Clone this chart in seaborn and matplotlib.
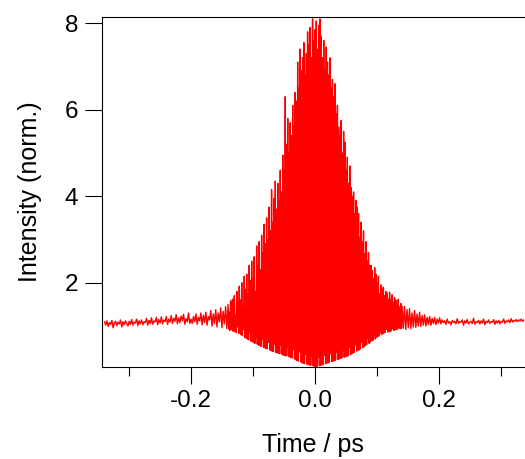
import numpy as np
import pandas as pd
import matplotlib
matplotlib.use("Agg")
import matplotlib.pyplot as plt
import seaborn as sns
from matplotlib.ticker import MultipleLocator

# ================== 数据 ==================
# 强度（归一化），从图上逐点读出；两翼每 ~0.002 ps 一点，中心每 0.001 ps 一点
wing_left = [
    1.10, 1.02, 1.12, 0.99, 1.08, 1.04, 1.13, 0.96, 1.07, 1.11,
    1.01, 1.09, 1.05, 1.14, 0.98, 1.10, 1.03, 1.12, 1.06, 1.00,
    1.11, 1.04, 1.15, 1.02, 1.09, 1.07, 1.16, 1.01, 1.12, 1.05,
    1.14, 1.03, 1.10, 1.08, 1.18, 1.02, 1.13, 1.06, 1.19, 1.04,
    1.12, 1.09, 1.20, 1.03, 1.15, 1.07, 1.21, 1.05, 1.14, 1.10,
    1.22, 1.04, 1.16, 1.09, 1.24, 1.06, 1.18, 1.11, 1.26, 1.05,
    1.19, 1.08, 1.23, 1.12, 1.27, 1.04, 1.17, 1.10, 1.30, 1.06,
    1.16, 1.06, 1.22, 1.10, 1.28, 1.04, 1.20, 1.12, 1.30, 1.03,
    1.25, 1.08, 1.32, 1.02, 1.22, 1.14, 1.36, 1.00, 1.28, 1.06,
    1.38, 0.98, 1.30, 1.10, 1.42, 0.96, 1.34, 1.05, 1.45, 0.94,
]
center = [
    1.50, 0.93, 1.32, 0.90, 1.58, 1.05, 0.91, 1.62, 0.88, 1.45,
    1.70, 0.87, 1.25, 0.85, 1.80, 0.98, 1.55, 0.83, 1.92, 0.84,
    1.60, 0.80, 2.00, 0.78, 1.45, 0.92, 2.15, 0.74, 1.85, 0.72,
    2.20, 0.70, 1.75, 0.68, 2.40, 0.85, 2.05, 0.65, 2.50, 0.64,
    2.10, 0.62, 2.60, 0.60, 1.80, 0.75, 2.85, 0.58, 2.40, 0.56,
    2.95, 0.55, 2.30, 0.53, 3.10, 0.70, 2.70, 0.51, 3.35, 0.50,
    2.90, 0.48, 3.50, 0.47, 3.00, 0.62, 3.75, 0.45, 3.20, 0.43,
    4.15, 0.42, 3.40, 0.41, 3.95, 0.58, 4.35, 0.39, 3.70, 0.38,
    4.30, 0.37, 3.90, 0.36, 4.60, 0.55, 4.10, 0.34, 4.95, 0.33,
    4.60, 0.32, 6.30, 0.31, 5.20, 0.50, 5.80, 0.30, 5.00, 0.29,
    5.70, 0.27, 5.40, 0.26, 6.10, 0.45, 5.60, 0.24, 6.40, 0.22,
    6.20, 0.20, 7.10, 0.19, 6.50, 0.40, 7.40, 0.17, 6.90, 0.15,
    7.20, 0.14, 7.55, 0.13, 6.80, 0.35, 7.30, 0.12, 7.80, 0.11,
    7.50, 0.10, 7.90, 0.09, 7.20, 0.30, 8.10, 0.08, 7.60, 0.07,
    7.85, 0.06, 8.05, 0.07, 7.40, 0.28, 7.95, 0.08, 8.10, 0.09,
    7.70, 0.10, 7.20, 0.11, 7.60, 0.32, 6.90, 0.13, 7.45, 0.14,
    7.10, 0.15, 6.80, 0.16, 7.20, 0.36, 6.50, 0.18, 6.70, 0.19,
    6.30, 0.20, 6.60, 0.21, 5.90, 0.40, 6.10, 0.23, 5.60, 0.24,
    5.40, 0.25, 5.75, 0.26, 5.00, 0.44, 5.50, 0.28, 5.25, 0.29,
    4.60, 0.30, 4.90, 0.31, 4.30, 0.50, 4.70, 0.34, 4.20, 0.36,
    4.00, 0.38, 4.10, 0.39, 3.60, 0.56, 3.90, 0.42, 3.75, 0.44,
    3.60, 0.45, 3.05, 0.47, 3.40, 0.62, 2.95, 0.50, 3.20, 0.53,
    2.67, 0.55, 2.95, 0.57, 2.50, 0.72, 2.70, 0.60, 2.40, 0.63,
    2.40, 0.66, 2.28, 0.67, 2.10, 0.80, 2.35, 0.70, 2.20, 0.73,
    2.00, 0.76, 2.15, 0.77, 1.74, 0.86, 1.95, 0.80, 1.85, 0.82,
    1.90, 0.84, 1.70, 0.85, 1.80, 0.92, 1.76, 0.86, 1.62, 0.87,
    1.78, 0.88, 1.60, 0.89, 1.72, 0.95, 1.55, 0.90, 1.66, 0.91,
    1.60, 0.92, 1.48, 0.93, 1.62, 0.98, 1.44, 0.94, 1.52, 0.95,
    1.46,
]
wing_right = [
    0.95, 1.45, 0.92, 1.38, 0.96, 1.40, 0.94, 1.30, 0.98, 1.36,
    0.97, 1.28, 1.00, 1.32, 0.99, 1.24, 1.02, 1.26, 1.00, 1.20,
    1.04, 1.22, 1.02, 1.18, 1.06, 1.20, 1.03, 1.16, 1.07, 1.19,
    1.05, 1.14, 1.08, 1.12, 1.04, 1.16, 1.07, 1.10, 1.03, 1.13,
    1.08, 1.11, 1.05, 1.17, 1.06, 1.10, 1.09, 1.14, 1.02, 1.12,
    1.07, 1.15, 1.05, 1.09, 1.11, 1.06, 1.18, 1.04, 1.10, 1.08,
    1.13, 1.05, 1.12, 1.07, 1.16, 1.03, 1.11, 1.08, 1.14, 1.06,
    1.10, 1.09, 1.15, 1.04, 1.12, 1.07, 1.13, 1.05, 1.11, 1.09,
    1.16, 1.06, 1.12, 1.10, 1.14, 1.08, 1.17, 1.09, 1.13, 1.11,
    1.15, 1.10, 1.14, 1.12, 1.16, 1.11, 1.14,
]
# 延迟时间轴（ps），各段等间隔采样
t_left = np.linspace(-0.339, -0.142, len(wing_left))
t_center = np.linspace(-0.140, 0.140, len(center))
t_right = np.linspace(0.142, 0.336, len(wing_right))

df = pd.DataFrame({
    "time": np.concatenate([t_left, t_center, t_right]),
    "intensity": wing_left + center + wing_right,
})

# ================== 绘图 ==================
sns.set_style("ticks")
plt.rcParams["font.family"] = ["Liberation Sans", "DejaVu Sans"]
plt.rcParams["text.color"] = "black"
plt.rcParams["axes.labelcolor"] = "black"

fig = plt.figure(figsize=(5.25, 4.59), dpi=100)
ax = fig.add_axes([0.1937, 0.2011, 0.8063, 0.7625])

sns.lineplot(data=df, x="time", y="intensity", ax=ax, color="#ff0000",
             lw=1.0, estimator=None, sort=False)

ax.set_xlim(-0.3435, 0.338)
ax.set_ylim(0.06, 8.15)
ax.set_xticks([-0.2, 0.0, 0.2])
ax.set_xticklabels(["-0.2", "0.0", "0.2"])
ax.xaxis.set_minor_locator(MultipleLocator(0.1))
ax.set_yticks([2, 4, 6, 8])

ax.tick_params(axis="both", which="major", direction="out", length=12,
               width=0.8, labelsize=17.5, pad=5, colors="black")
ax.tick_params(axis="x", which="minor", direction="out", length=6.5,
               width=0.8, colors="black")

for s in ["left", "bottom", "top"]:
    ax.spines[s].set_linewidth(0.8)
    ax.spines[s].set_color("black")
ax.spines["right"].set_visible(False)

ax.set_xlabel("Time / ps", fontsize=18, labelpad=15)
ax.set_ylabel("Intensity (norm.)", fontsize=18, labelpad=16)

fig.savefig("out.png", dpi=100)
